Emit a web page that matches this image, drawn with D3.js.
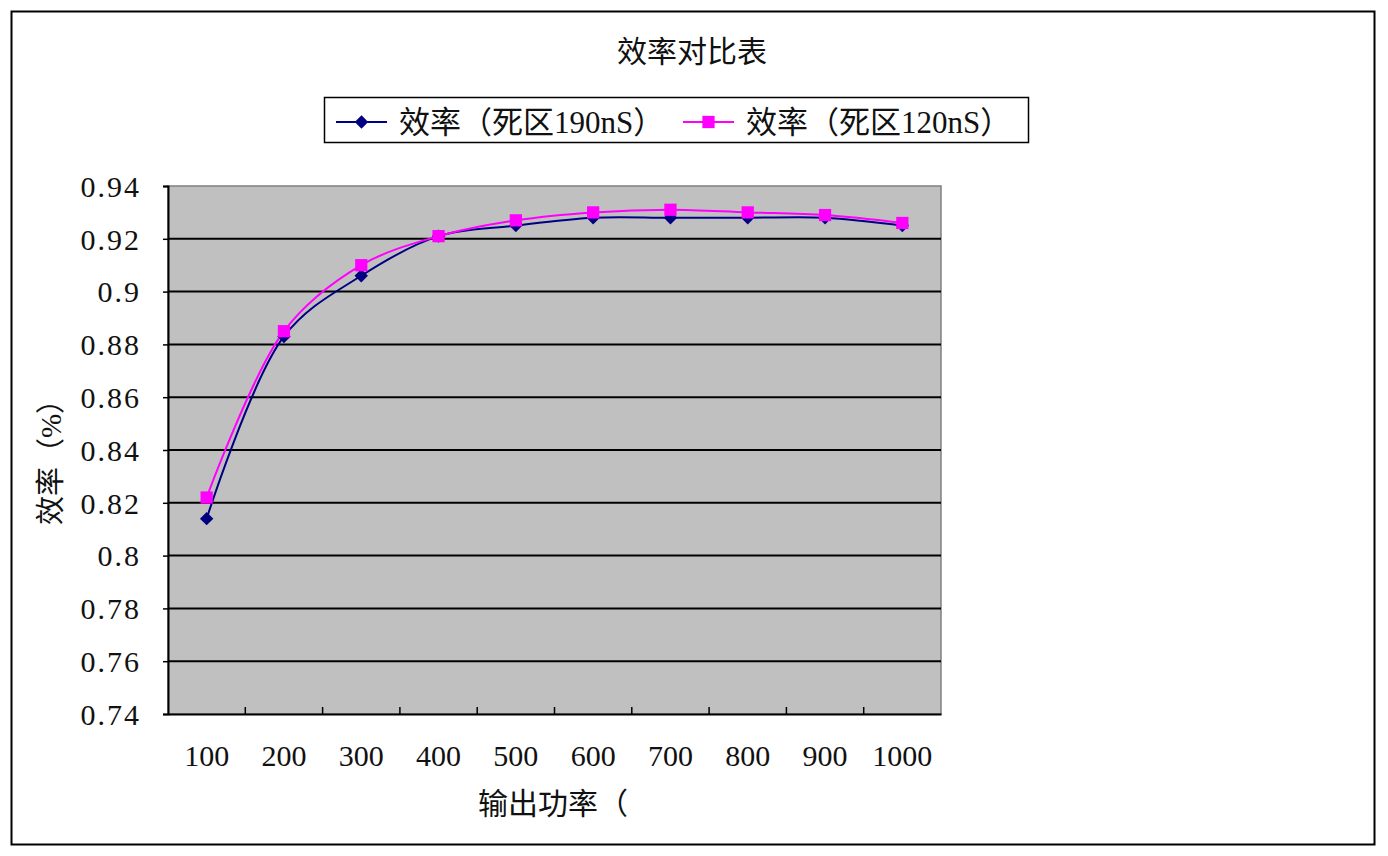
<!DOCTYPE html>
<html>
<head>
<meta charset="utf-8">
<script src="https://cdn.jsdelivr.net/npm/d3@7"></script>
<style>
  html, body { margin: 0; padding: 0; background: #ffffff; }
  svg { display: block; }
</style>
</head>
<body>
<script>
// ---- data ----
const categories = ["100", "200", "300", "400", "500", "600", "700", "800", "900", "1000"];
const series190 = [0.814, 0.883, 0.906, 0.921, 0.925, 0.928, 0.928, 0.928, 0.928, 0.925];
const series120 = [0.822, 0.885, 0.910, 0.921, 0.927, 0.930, 0.931, 0.930, 0.929, 0.926];
const seriesNames = ["效率（死区190nS）", "效率（死区120nS）"];
const yTickValues = [0.74, 0.76, 0.78, 0.80, 0.82, 0.84, 0.86, 0.88, 0.90, 0.92, 0.94];
const titleText = "效率对比表";
const xTitle = "输出功率（";
const yTitle = "效率（%）";

// ---- layout ----
const W = 1388, H = 856;
const plot = { left: 168, right: 941, top: 186, bottom: 714 };
const numFont = "'Liberation Serif', 'DejaVu Serif', serif";
const cjkFont = "'Liberation Serif', 'Noto Sans CJK SC', sans-serif";

const svg = d3.select("body").append("svg").attr("width", W).attr("height", H);

// outer border
svg.append("rect").attr("x", 11.5).attr("y", 11.5).attr("width", 1363).attr("height", 833)
  .attr("fill", "#fff").attr("stroke", "#000").attr("stroke-width", 2);

const x = d3.scaleBand().domain(categories).range([plot.left, plot.right]).padding(0);
const y = d3.scaleLinear().domain([0.74, 0.94]).range([plot.bottom, plot.top]);

// plot background
svg.append("rect").attr("x", plot.left).attr("y", plot.top)
  .attr("width", plot.right - plot.left).attr("height", plot.bottom - plot.top)
  .attr("fill", "#c0c0c0").attr("stroke", "#808080").attr("stroke-width", 1.5);

// gridlines
svg.append("g").selectAll("line").data(yTickValues.slice(1, -1)).join("line")
  .attr("x1", plot.left).attr("x2", plot.right)
  .attr("y1", d => y(d)).attr("y2", d => y(d))
  .attr("stroke", "#000").attr("stroke-width", 2);

// y axis
const yAxis = svg.append("g").attr("transform", `translate(${plot.left},0)`)
  .call(d3.axisLeft(y).tickValues(yTickValues).tickFormat(d3.format("~g")).tickSize(5).tickPadding(22));
yAxis.select(".domain").attr("stroke", "#000").attr("stroke-width", 2);
yAxis.selectAll(".tick line").attr("stroke", "#000").attr("stroke-width", 1.5);
yAxis.selectAll("text").attr("font-family", numFont).attr("font-size", 30)
  .attr("fill", "#111").attr("letter-spacing", "2px").attr("dy", "0.34em");

// x axis
const xAxis = svg.append("g").attr("transform", `translate(0,${plot.bottom})`)
  .call(d3.axisBottom(x).tickSize(0).tickPadding(31));
xAxis.select(".domain").attr("stroke", "#000").attr("stroke-width", 2);
xAxis.selectAll("text").attr("font-family", numFont).attr("font-size", 30).attr("fill", "#111");
// inner tick marks at category boundaries
svg.append("g").selectAll("line").data(categories.slice(1)).join("line")
  .attr("x1", d => x(d)).attr("x2", d => x(d))
  .attr("y1", plot.bottom).attr("y2", plot.bottom - 7)
  .attr("stroke", "#000").attr("stroke-width", 1.5);

// lines
const lineGen = d3.line()
  .x((d, i) => x(categories[i]) + x.bandwidth() / 2)
  .y(d => y(d))
  .curve(d3.curveCatmullRom.alpha(0.5));

// diamond = square rotated 45 degrees
const diamondPath = d3.symbol().type(d3.symbolSquare).size(90);
const square = d3.symbol().type(d3.symbolSquare).size(150);

svg.append("path").datum(series190).attr("d", lineGen)
  .attr("fill", "none").attr("stroke", "#000080").attr("stroke-width", 2);
svg.append("path").datum(series120).attr("d", lineGen)
  .attr("fill", "none").attr("stroke", "#ff00ff").attr("stroke-width", 2);

svg.append("g").selectAll("path").data(series190).join("path")
  .attr("d", diamondPath)
  .attr("transform", (d, i) => `translate(${x(categories[i]) + x.bandwidth() / 2},${y(d)}) rotate(45)`)
  .attr("fill", "#000080");
svg.append("g").selectAll("path").data(series120).join("path")
  .attr("d", square)
  .attr("transform", (d, i) => `translate(${x(categories[i]) + x.bandwidth() / 2},${y(d)})`)
  .attr("fill", "#ff00ff");

// title
svg.append("text").attr("x", 692).attr("y", 62).attr("text-anchor", "middle")
  .attr("font-family", cjkFont).attr("font-size", 30).attr("fill", "#111").text(titleText);

// axis titles
svg.append("text").attr("x", 553).attr("y", 814).attr("text-anchor", "middle")
  .attr("font-family", cjkFont).attr("font-size", 30).attr("fill", "#111").text(xTitle);
svg.append("text").attr("transform", "translate(61,455) rotate(-90)").attr("text-anchor", "middle")
  .attr("font-family", cjkFont).attr("font-size", 29).attr("fill", "#111").text(yTitle);

// legend
const lg = svg.append("g");
lg.append("rect").attr("x", 324.5).attr("y", 97.5).attr("width", 704).attr("height", 45)
  .attr("fill", "#fff").attr("stroke", "#000").attr("stroke-width", 1.5);
const legendItems = [
  { name: seriesNames[0], color: "#000080", sym: diamondPath, rot: 45, x0: 336 },
  { name: seriesNames[1], color: "#ff00ff", sym: square, rot: 0, x0: 683 }
];
legendItems.forEach(it => {
  lg.append("line").attr("x1", it.x0).attr("x2", it.x0 + 51).attr("y1", 122).attr("y2", 122)
    .attr("stroke", it.color).attr("stroke-width", 2);
  lg.append("path").attr("d", it.sym).attr("transform", `translate(${it.x0 + 25.5},122) rotate(${it.rot})`).attr("fill", it.color);
  lg.append("text").attr("x", it.x0 + 63).attr("y", 133).attr("font-family", cjkFont)
    .attr("font-size", 31).attr("fill", "#111").text(it.name);
});
</script>
</body>
</html>
